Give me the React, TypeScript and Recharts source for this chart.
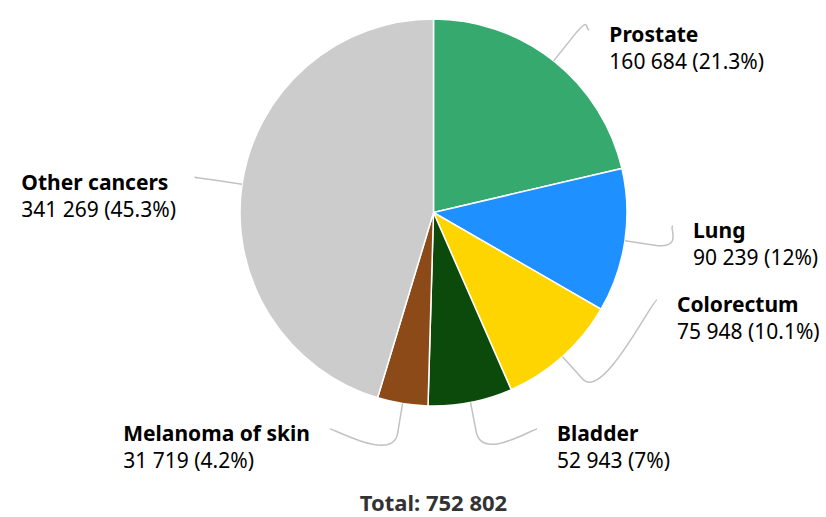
import { Cell, Pie, PieChart } from 'recharts';

const categories = ['Prostate', 'Lung', 'Colorectum', 'Bladder', 'Melanoma of skin', 'Other cancers'];
const cases = [160684, 90239, 75948, 52943, 31719, 341269];
const colors = ['#36a96f', '#1e90ff', '#ffd500', '#0b4a0b', '#8b4a17', '#cccccc'];
const totalLabel = 'Total: 752 802';

// where each label's connector ends (y, px) after the labels are spread out
const labelY = [30, 226, 300, 429, 429, 178];

const data = categories.map((name, i) => ({ name, value: cases[i] }));
const total = cases.reduce((a, b) => a + b, 0);

const W = 826;
const H = 517;
const CX = 433.5;
const CY = 212.5;
const R = 193.5;
const LABEL_R = 240;
const FONT = '"Noto Sans", "Open Sans", sans-serif';
const FS = 21;
const RAD = Math.PI / 180;

const fmt = (n: number) => String(n).replace(/\B(?=(\d{3})+(?!\d))/g, ' ');
const pct = (n: number) => {
    const p = Math.round((n / total) * 1000) / 10;
    return `${Number.isInteger(p) ? p.toFixed(0) : p.toFixed(1)}%`;
};

let ctx: CanvasRenderingContext2D | null = null;
const measure = (text: string, weight: string) => {
    if (!ctx) ctx = document.createElement('canvas').getContext('2d');
    if (!ctx) return text.length * FS * 0.55;
    ctx.font = `${weight} ${FS}px ${FONT}`;
    return ctx.measureText(text).width;
};

const polar = (r: number, angle: number) => ({
    x: CX + r * Math.cos(-angle * RAD),
    y: CY + r * Math.sin(-angle * RAD),
});

const renderLabel = (props: any) => {
    const { midAngle, index } = props;
    const value = cases[index];
    const name = categories[index];
    const touch = polar(R, midAngle);
    const brk = polar(R + 30, midAngle);
    const right = Math.cos(-midAngle * RAD) >= 0;
    const y = labelY[index];
    const dx = Math.sqrt(Math.max(0, LABEL_R * LABEL_R - (y - CY) * (y - CY)));
    const x = right ? CX + dx : CX - dx;
    const c1x = x + (right ? -5 : 5);
    const path = `M ${x} ${y} C ${c1x} ${y} ${2 * brk.x - touch.x} ${2 * brk.y - touch.y} ${brk.x} ${brk.y} L ${touch.x} ${touch.y}`;
    const line2 = `${fmt(value)} (${pct(value)})`;
    let tx = x + 20;
    if (!right) {
        const w = Math.max(measure(name, 'bold'), measure(line2, 'normal'));
        tx = x - 20 - w;
    }
    return (
        <g key={`lbl-${index}`}>
            <path d={path} fill='none' stroke='#c2c2c2' strokeWidth={1.5} />
            <text x={tx} y={y + 12} fontFamily={FONT} fontSize={FS} fontWeight='bold' fill='#000'>
                {name}
            </text>
            <text x={tx} y={y + 39} fontFamily={FONT} fontSize={FS} fill='#000'>
                {line2}
            </text>
        </g>
    );
};

export default function App() {
    return (
        <div style={{ position: 'absolute', left: 0, top: 0, width: W, height: H, background: '#fff' }}>
            <PieChart width={W} height={H} margin={{ top: 0, right: 0, bottom: 0, left: 0 }}>
                <Pie
                    data={data}
                    dataKey='value'
                    nameKey='name'
                    cx={CX}
                    cy={CY}
                    outerRadius={R}
                    startAngle={90}
                    endAngle={-270}
                    stroke='#ffffff'
                    strokeWidth={1.5}
                    label={renderLabel}
                    labelLine={false}
                    isAnimationActive={false}
                >
                    {data.map((d, i) => (
                        <Cell key={d.name} fill={colors[i]} />
                    ))}
                </Pie>
            </PieChart>
            <div
                style={{
                    position: 'absolute',
                    left: CX,
                    top: 487,
                    transform: 'translateX(-50%)',
                    whiteSpace: 'nowrap',
                    fontFamily: FONT,
                    fontSize: 22,
                    lineHeight: '30px',
                    fontWeight: 'bold',
                    color: '#333',
                }}
            >
                {totalLabel}
            </div>
        </div>
    );
}
